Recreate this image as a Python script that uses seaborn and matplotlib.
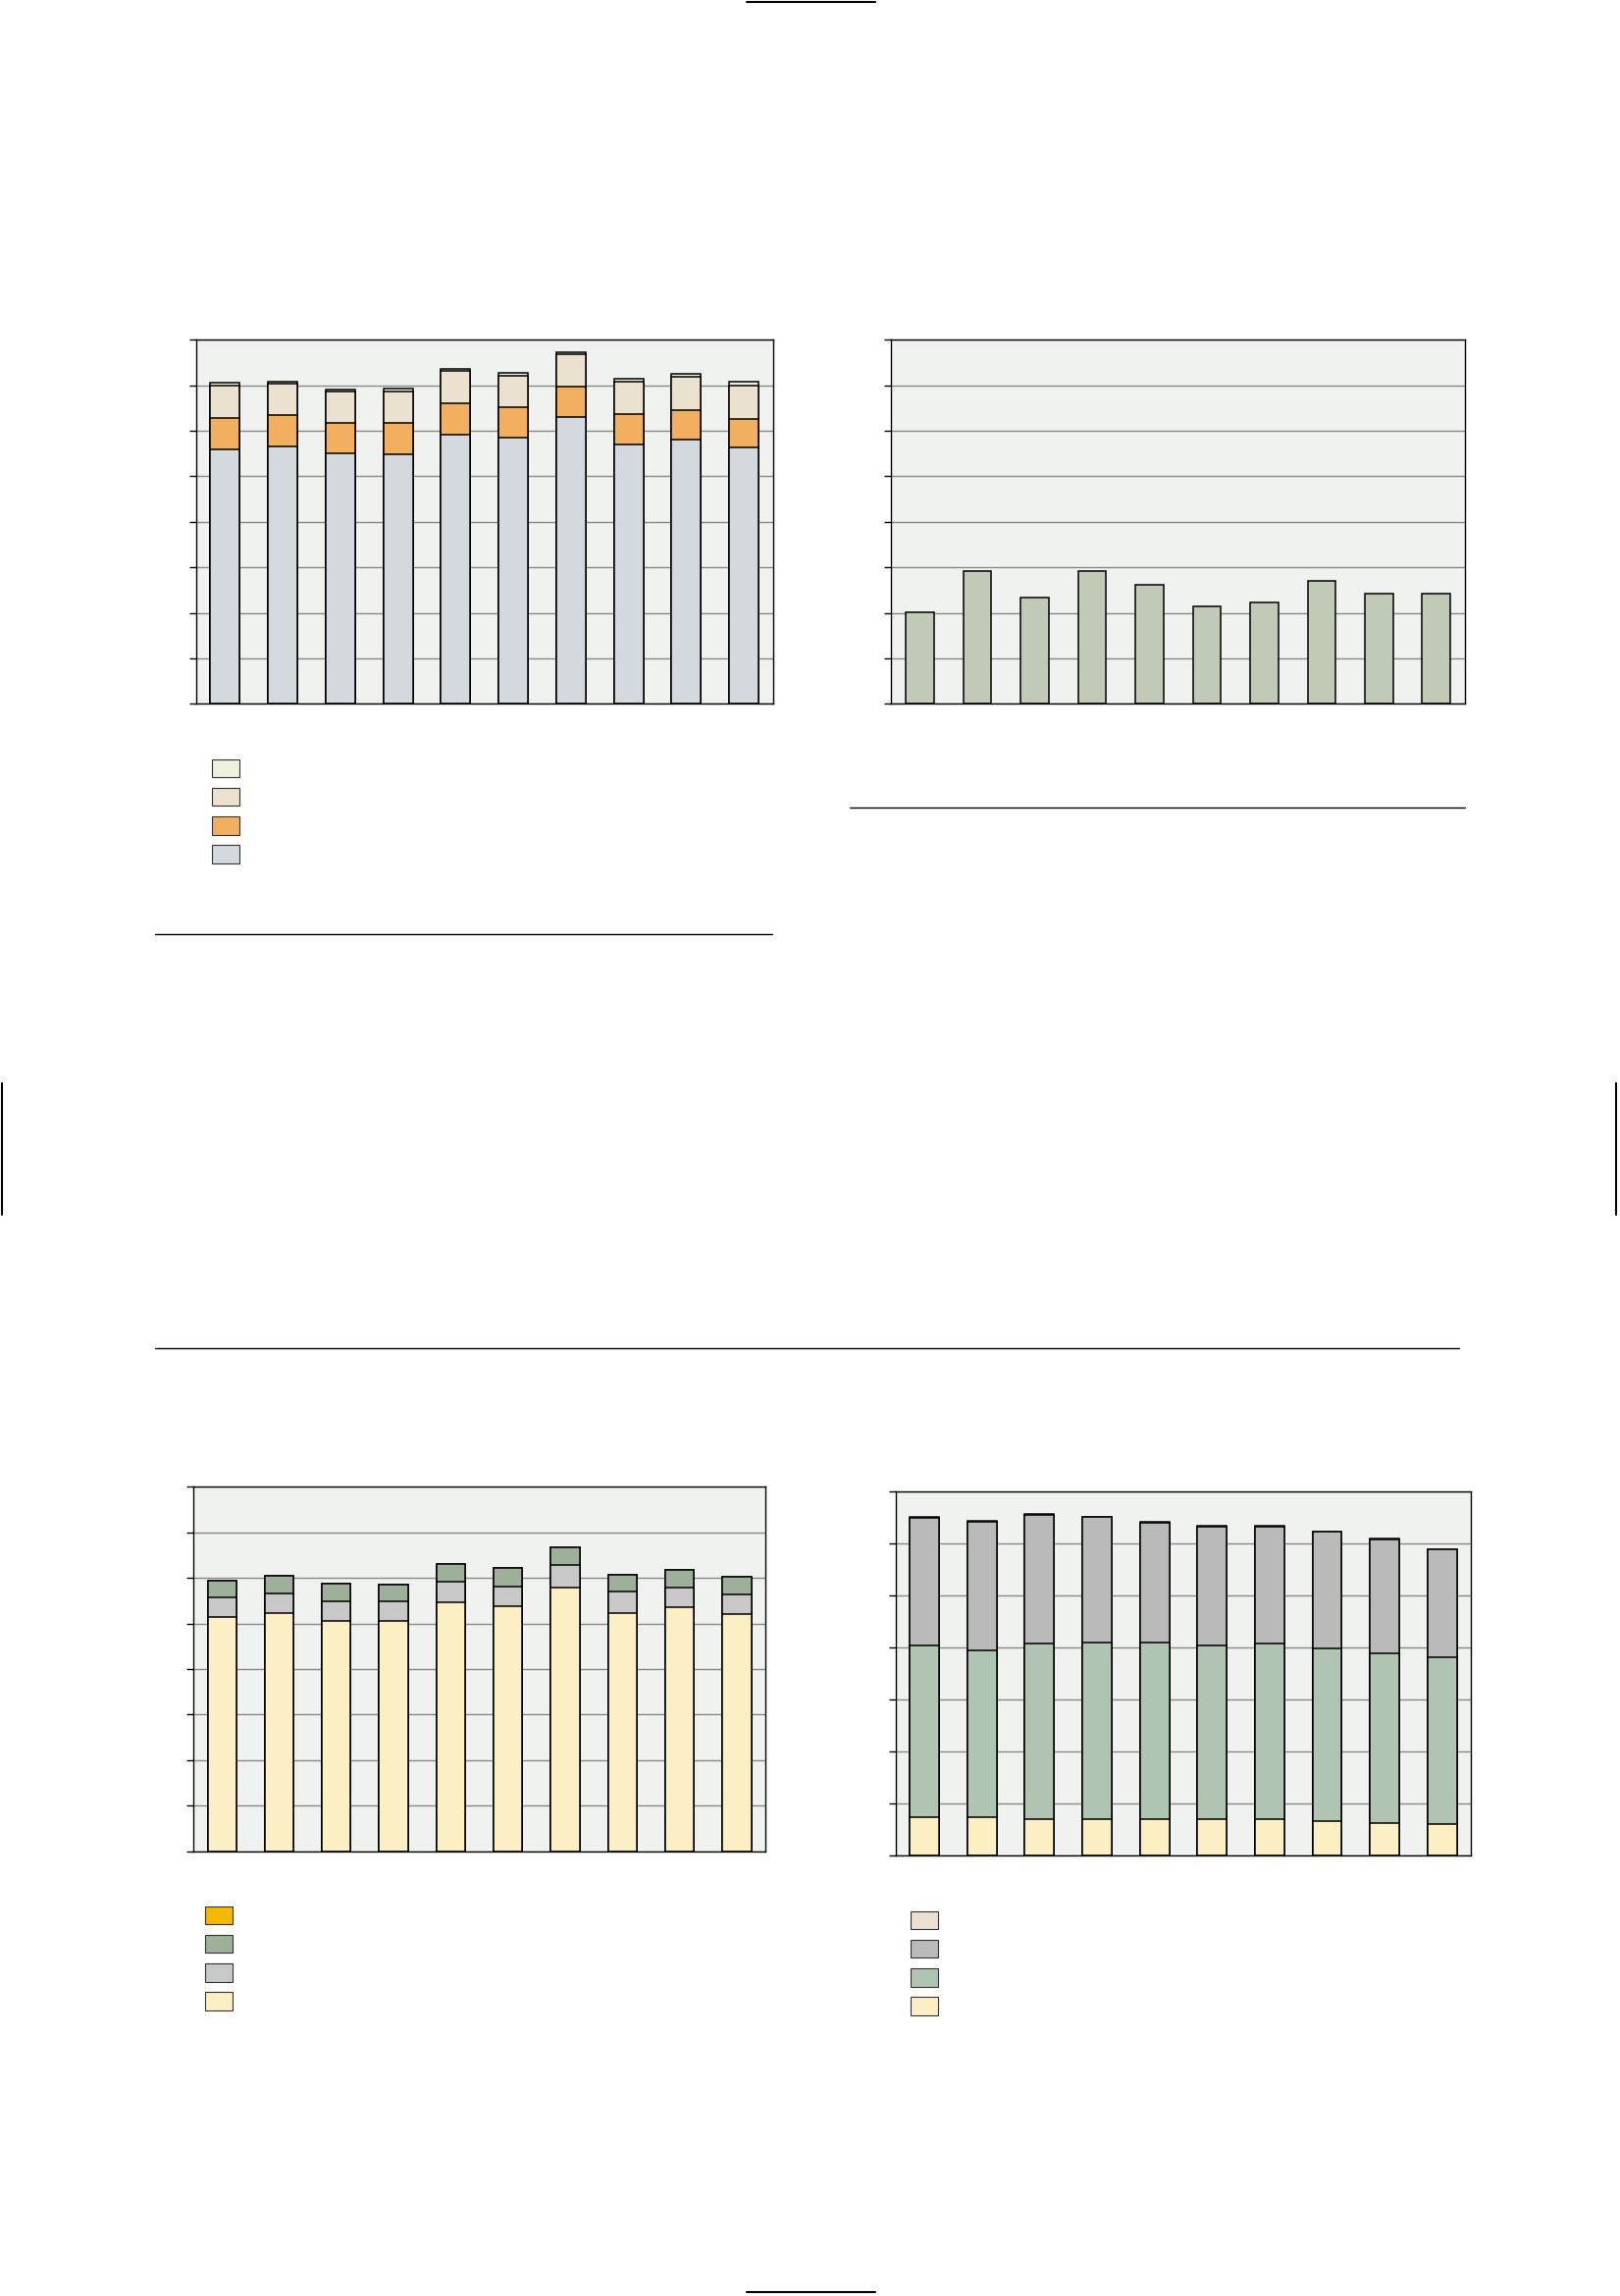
import numpy as np
import pandas as pd
import seaborn as sns
import matplotlib.pyplot as plt
from matplotlib.lines import Line2D
from matplotlib.patches import Patch

# Ten periods along the x axis (labels are not shown in the reference)
years = ["1996", "1997", "1998", "1999", "2000", "2001", "2002", "2003", "2004", "2005"]

# Top-left panel: four stacked components
tl_base = [5.59, 5.65, 5.50, 5.48, 5.91, 5.85, 6.30, 5.70, 5.80, 5.63]
tl_orange = [0.69, 0.69, 0.67, 0.69, 0.69, 0.66, 0.67, 0.66, 0.65, 0.63]
tl_beige = [0.71, 0.69, 0.69, 0.69, 0.71, 0.69, 0.71, 0.71, 0.73, 0.73]
tl_top = [0.06, 0.05, 0.05, 0.06, 0.05, 0.06, 0.05, 0.06, 0.07, 0.08]

# Top-right panel: single series
tr_values = [2.02, 2.92, 2.33, 2.92, 2.62, 2.14, 2.23, 2.71, 2.43, 2.43]

# Bottom-left panel
bl_yellow = [5.14, 5.24, 5.05, 5.05, 5.46, 5.37, 5.80, 5.22, 5.35, 5.20]
bl_grey = [0.43, 0.41, 0.43, 0.43, 0.45, 0.45, 0.48, 0.48, 0.45, 0.43]
bl_green = [0.38, 0.39, 0.39, 0.37, 0.39, 0.40, 0.39, 0.38, 0.38, 0.39]
bl_gold = [0, 0, 0, 0, 0, 0, 0, 0, 0, 0]

# Bottom-right panel
br_yellow = [0.73, 0.73, 0.71, 0.71, 0.70, 0.70, 0.71, 0.66, 0.62, 0.60]
br_green = [3.31, 3.22, 3.36, 3.39, 3.40, 3.34, 3.36, 3.32, 3.27, 3.21]
br_grey = [2.45, 2.47, 2.48, 2.40, 2.30, 2.28, 2.25, 2.24, 2.19, 2.07]
br_beige = [0.01, 0.01, 0.01, 0.01, 0.01, 0.01, 0.01, 0.01, 0.01, 0.01]

BG = "#F0F2EF"
GRID = "#8A8A8A"

sns.set_style("white")
plt.rcParams["font.family"] = ["DejaVu Sans"]

fig = plt.figure(figsize=(16.51, 23.40), dpi=100)


def style_axis(ax, ymax):
    ax.set_facecolor(BG)
    ax.set_ylim(0, ymax)
    ax.set_xlim(-0.5, len(years) - 0.5)
    ax.set_yticks(np.arange(0, ymax + 1))
    ax.set_yticklabels([])
    ax.set_xticks([])
    ax.set_xlabel("")
    ax.set_ylabel("")
    ax.yaxis.grid(True, color=GRID, linewidth=1.0)
    ax.set_axisbelow(True)
    ax.tick_params(axis="y", direction="out", length=5, width=1, color="black", left=True)
    for s in ax.spines.values():
        s.set_visible(True)
        s.set_color("black")
        s.set_linewidth(1.0)


def stacked(ax, parts, colors, width):
    # draw cumulative totals from the tallest down so each layer covers the one above
    cum = np.cumsum(np.array(parts), axis=0)
    for i in range(len(parts) - 1, -1, -1):
        df = pd.DataFrame({"year": years, "value": cum[i]})
        sns.barplot(data=df, x="year", y="value", color=colors[i], saturation=1,
                    edgecolor="black", linewidth=1.1, width=width, ax=ax)


def patch_legend(ax, colors, anchor):
    handles = [Patch(facecolor=c, edgecolor="#333333", linewidth=0.8) for c in colors[::-1]]
    fig.legend(handles, [""] * len(handles), loc="upper left", bbox_to_anchor=anchor,
               bbox_transform=fig.transFigure, frameon=False, fontsize=10,
               handlelength=2.0, handleheight=1.65, labelspacing=0.78,
               borderpad=0, borderaxespad=0, handletextpad=0.3)


# top-left
ax1 = fig.add_axes([0.1211, 0.6934, 0.3559, 0.1587])
c1 = ["#D3D9DC", "#F2AF60", "#EAE2CF", "#EEF2DC"]
stacked(ax1, [tl_base, tl_orange, tl_beige, tl_top], c1, 0.51)
style_axis(ax1, 8)
patch_legend(ax1, c1, (216 / 1651, 1 - 774 / 2340))

# top-right
ax2 = fig.add_axes([0.5502, 0.6934, 0.3541, 0.1587])
stacked(ax2, [tr_values], ["#C1CAB6"], 0.49)
style_axis(ax2, 8)

# bottom-left
ax3 = fig.add_axes([0.1193, 0.1937, 0.3532, 0.1587])
c3 = ["#FDEFC4", "#C8C8C8", "#9FB09A", "#F5B800"]
stacked(ax3, [bl_yellow, bl_grey, bl_green, bl_gold], c3, 0.50)
style_axis(ax3, 8)
patch_legend(ax3, c3, (209 / 1651, 1 - 1943 / 2340))

# bottom-right
ax4 = fig.add_axes([0.5529, 0.1918, 0.3551, 0.1587])
c4 = ["#FDEFC4", "#B0C4B2", "#BABABA", "#EAE2CF"]
stacked(ax4, [br_yellow, br_green, br_grey, br_beige], c4, 0.51)
style_axis(ax4, 7)
patch_legend(ax4, c4, (928 / 1651, 1 - 1948 / 2340))

# rule lines and page marks
rules = [
    ((158, 787), (951.6, 951.6), 1.0),
    ((866, 1493), (823.3, 823.3), 1.0),
    ((158, 1487), (1373.7, 1373.7), 1.0),
    ((761, 892), (1.5, 1.5), 1.5),
    ((761, 892), (2336, 2336), 1.5),
    ((1.5, 1.5), (1104, 1238), 1.5),
    ((1647, 1647), (1104, 1238), 1.5),
]
for xs, ys, lw in rules:
    fig.add_artist(Line2D([x / 1651 for x in xs], [1 - y / 2340 for y in ys],
                          transform=fig.transFigure, color="black", linewidth=lw))

fig.savefig("out.png", dpi=100, facecolor="white")
